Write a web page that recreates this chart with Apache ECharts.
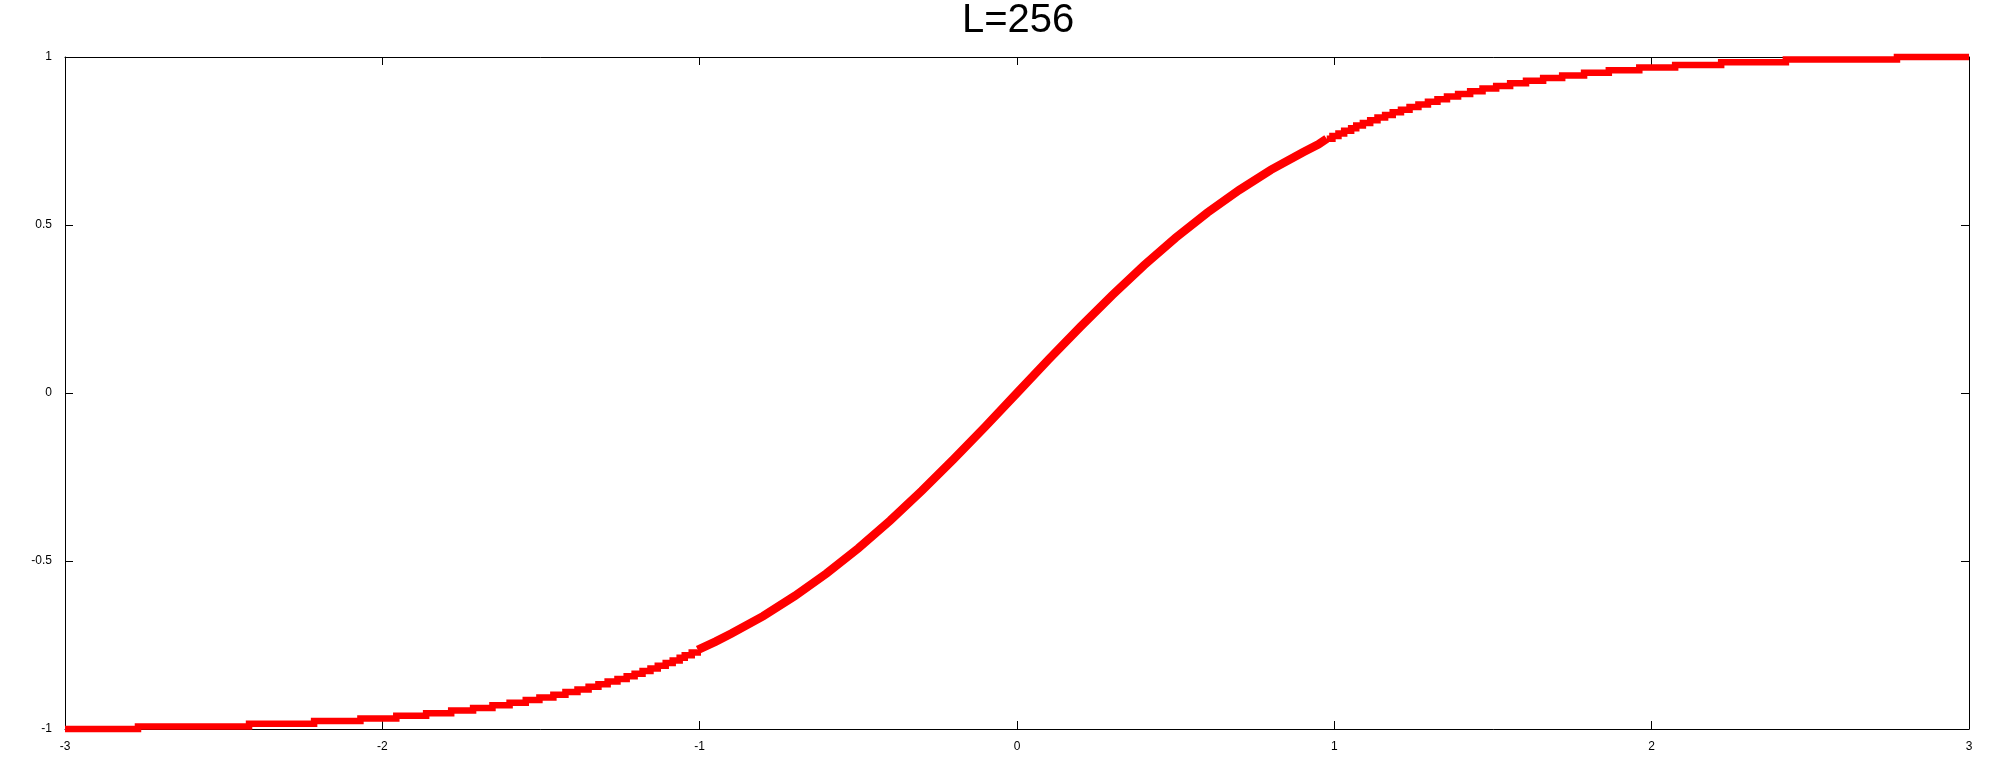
<!DOCTYPE html>
<html>
<head>
<meta charset="utf-8">
<script src="https://cdn.jsdelivr.net/npm/echarts@6/dist/echarts.min.js"></script>
<style>
  html, body { margin: 0; padding: 0; background: #fff; }
  #chartLineBox { width: 2000px; height: 768px; }
</style>
</head>
<body>
<div id="chartLineBox"></div>
<script>
// 左侧阶梯：每一级开始的 x 和对应的量化值
var leftEdges = [-3, -2.770, -2.420, -2.215, -2.069, -1.956, -1.862, -1.783, -1.714, -1.653, -1.599,
  -1.548, -1.505, -1.461, -1.423, -1.385, -1.350, -1.319, -1.290, -1.259, -1.230,
  -1.205, -1.180, -1.155, -1.132, -1.107, -1.085, -1.063, -1.047, -1.025, -1.006];
var leftLevels = [-1.0000, -0.9922, -0.9843, -0.9765, -0.9686, -0.9608, -0.9529, -0.9451, -0.9373, -0.9294,
  -0.9216, -0.9137, -0.9059, -0.8980, -0.8902, -0.8824, -0.8745, -0.8667, -0.8588, -0.8510,
  -0.8431, -0.8353, -0.8275, -0.8196, -0.8118, -0.8039, -0.7961, -0.7882, -0.7804, -0.7725, -0.7647];

// 中间部分台阶太密，按曲线读点
var midX = [-0.95, -0.9, -0.8, -0.7, -0.6, -0.5, -0.4, -0.3, -0.2, -0.1, 0,
  0.1, 0.2, 0.3, 0.4, 0.5, 0.6, 0.7, 0.8, 0.9, 0.95];
var midY = [-0.740, -0.716, -0.664, -0.604, -0.537, -0.462, -0.380, -0.291, -0.197, -0.100, 0,
  0.100, 0.197, 0.291, 0.380, 0.462, 0.537, 0.604, 0.664, 0.716, 0.740];

// 右侧阶梯
var rightEdges = [0.976, 0.994, 1.013, 1.031, 1.053, 1.069, 1.090, 1.113, 1.136, 1.160, 1.184,
  1.210, 1.237, 1.265, 1.295, 1.325, 1.355, 1.390, 1.428, 1.467, 1.510,
  1.554, 1.604, 1.658, 1.718, 1.787, 1.865, 1.961, 2.074, 2.219, 2.423, 2.773];
var rightLevels = [0.7569, 0.7647, 0.7725, 0.7804, 0.7882, 0.7961, 0.8039, 0.8118, 0.8196, 0.8275,
  0.8353, 0.8431, 0.8510, 0.8588, 0.8667, 0.8745, 0.8824, 0.8902, 0.8980, 0.9059,
  0.9137, 0.9216, 0.9294, 0.9373, 0.9451, 0.9529, 0.9608, 0.9686, 0.9765, 0.9843,
  0.9922, 1.0000];
var xEnd = 3;

var xTicks = [-3, -2, -1, 0, 1, 2, 3];
var yTicks = [-1, -0.5, 0, 0.5, 1];

var leftPts = [];
for (var i = 0; i < leftEdges.length; i++) {
  leftPts.push([leftEdges[i], leftLevels[i]]);
  if (i + 1 < leftEdges.length) leftPts.push([leftEdges[i + 1], leftLevels[i]]);
}
var midPts = [[leftEdges[leftEdges.length - 1], leftLevels[leftLevels.length - 1]]];
for (var j = 0; j < midX.length; j++) {
  midPts.push([midX[j], midY[j]]);
}
midPts.push([rightEdges[0], rightLevels[0]]);
var rightPts = [];
for (var k = 0; k < rightEdges.length; k++) {
  rightPts.push([rightEdges[k], rightLevels[k]]);
  rightPts.push([k + 1 < rightEdges.length ? rightEdges[k + 1] : xEnd, rightLevels[k]]);
}

var font = "Liberation Sans";
var chartLine = echarts.init(document.getElementById("chartLineBox"));

function axisBase(extra) {
  var a = {
    type: "value",
    axisLine: { show: true, onZero: false, lineStyle: { color: "#000", width: 1 } },
    axisTick: { show: true, inside: true, length: 8, lineStyle: { color: "#000", width: 1 } },
    splitLine: { show: false },
    axisLabel: { show: false }
  };
  for (var key in extra) a[key] = extra[key];
  return a;
}

function redLine(data, w) {
  return {
    type: "line",
    data: data,
    xAxisIndex: 0,
    yAxisIndex: 0,
    showSymbol: false,
    clip: false,
    lineStyle: { color: "#ff0000", width: w, join: "miter" }
  };
}

var option = {
  animation: false,
  backgroundColor: "#fff",
  title: {
    text: "L=256",
    left: 962,
    top: 1,
    padding: 0,
    textStyle: { fontFamily: font, fontSize: 40, fontWeight: "normal", color: "#000" }
  },
  grid: { left: 65, right: 31, top: 57, bottom: 39 },
  xAxis: [
    axisBase({
      position: "bottom", min: xTicks[0], max: xTicks[xTicks.length - 1], interval: 1,
      axisLabel: { show: true, margin: 12, color: "#000", fontFamily: font, fontSize: 12 }
    }),
    axisBase({ position: "top", min: xTicks[0], max: xTicks[xTicks.length - 1], interval: 1 })
  ],
  yAxis: [
    axisBase({
      position: "left", min: yTicks[0], max: yTicks[yTicks.length - 1], interval: 0.5,
      axisLabel: { show: true, margin: 13, color: "#000", fontFamily: font, fontSize: 12 }
    }),
    axisBase({ position: "right", min: yTicks[0], max: yTicks[yTicks.length - 1], interval: 0.5 })
  ],
  series: [
    redLine(leftPts, 6.5),
    redLine(midPts, 8.5),
    redLine(rightPts, 6.5)
  ]
};

chartLine.setOption(option);
</script>
</body>
</html>
